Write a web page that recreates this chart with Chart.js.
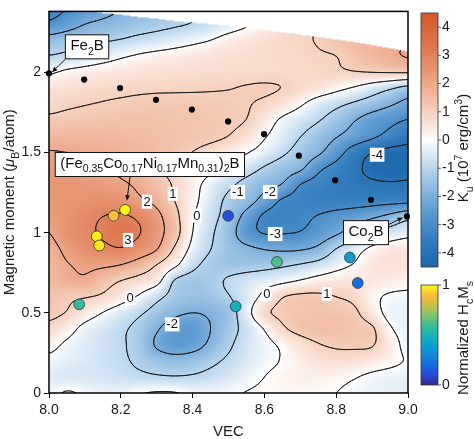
<!DOCTYPE html>
<html>
<head>
<meta charset="utf-8">
<script src="https://cdn.jsdelivr.net/npm/chart.js@4.4.1/dist/chart.umd.min.js"></script>
<style>
  html, body { margin: 0; padding: 0; background: #fff; }
  canvas { display: block; }
</style>
</head>
<body>
<canvas id="myChart" width="474" height="439"></canvas>
<script>
const FONT = '"Liberation Sans", Arial, Helvetica, sans-serif';

// grid of K_u (10^7 erg/cm^3); one row per moment value
const vecGrid = [8.00, 8.05, 8.10, 8.15, 8.20, 8.25, 8.30, 8.35, 8.40, 8.45, 8.50,
                 8.55, 8.60, 8.65, 8.70, 8.75, 8.80, 8.85, 8.90, 8.95, 9.00];
const momentGrid = [0.0, 0.1, 0.2, 0.3, 0.4, 0.5, 0.6, 0.7, 0.8, 0.9, 1.0, 1.1, 1.2,
                    1.3, 1.4, 1.5, 1.6, 1.7, 1.8, 1.9, 2.0, 2.1, 2.2, 2.3, 2.4];

const kuRow00 = [-0.2, 0.05, -0.1, -0.25, -0.25, -0.05, 0.05, 0.03, -0.15, -0.2, -0.1, 0.02, 0.1, 0.15, 0.15, 0.1, 0.0, -0.15, -0.3, -0.35, -0.4];
const kuRow01 = [-0.45, -0.5, -0.55, -0.6, -0.7, -0.8, -0.9, -0.95, -0.9, -0.75, -0.55, -0.25, 0.0, 0.2, 0.3, 0.3, 0.2, 0.05, -0.15, -0.25, -0.3];
const kuRow02 = [-0.2, -0.35, -0.5, -0.65, -0.85, -1.15, -1.45, -1.6, -1.5, -1.2, -0.85, -0.5, -0.2, 0.05, 0.35, 0.55, 0.65, 0.6, 0.45, 0.2, -0.05];
const kuRow03 = [0.25, -0.15, -0.45, -0.65, -0.9, -1.3, -2.1, -2.5, -2.35, -1.8, -1.15, -0.6, -0.25, 0.15, 0.6, 0.95, 1.1, 1.12, 1.05, 0.4, -0.25];
const kuRow04 = [0.75, 0.35, -0.25, -0.55, -0.85, -1.25, -1.9, -2.45, -2.55, -2.0, -1.35, -0.7, 0.05, 0.85, 1.25, 1.4, 1.4, 1.3, 1.1, 0.1, -0.3];
const kuRow05 = [1.2, 0.95, 0.45, -0.02, -0.45, -0.85, -1.35, -1.8, -2.0, -1.85, -1.45, -0.35, 0.8, 1.15, 1.3, 1.35, 1.3, 1.15, 0.45, -0.25, -0.3];
const kuRow06 = [1.3, 1.15, 1.05, 0.85, 0.4, -0.1, -0.75, -1.3, -1.5, -1.4, -1.05, -0.5, 0.25, 0.95, 1.15, 1.15, 1.0, 0.8, 0.2, -0.1, -0.15];
const kuRow07 = [1.5, 1.75, 1.85, 1.4, 1.0, 0.7, 0.3, -1.05, -1.35, -1.25, -0.9, -0.6, -0.4, -0.2, 0.05, 0.3, 0.45, 0.5, 0.45, 0.35, 0.25];
const kuRow08 = [1.6, 1.95, 2.15, 2.15, 2.0, 1.6, 1.0, 0.2, -0.75, -1.25, -1.4, -1.4, -1.3, -1.15, -0.95, -0.7, -0.3, 0.05, 0.45, 0.6, 0.6];
const kuRow09 = [1.75, 2.2, 2.6, 2.8, 2.95, 2.6, 2.05, 0.9, -0.25, -0.98, -1.45, -1.8, -2.05, -2.15, -2.1, -1.8, -1.0, -0.4, 0.15, 0.4, 0.5];
const kuRow10 = [2.0, 2.5, 2.8, 3.1, 3.3, 3.05, 2.35, 1.4, 0.0, -0.85, -1.55, -2.6, -3.05, -3.05, -2.95, -2.6, -2.15, -1.55, -0.95, -0.6, -0.3];
const kuRow11 = [2.25, 2.5, 2.75, 3.0, 3.1, 2.85, 2.25, 1.3, 0.1, -0.7, -1.35, -2.3, -3.15, -3.3, -3.2, -2.95, -2.7, -2.45, -2.15, -1.75, -1.3];
const kuRow12 = [2.35, 2.45, 2.5, 2.55, 2.5, 2.15, 1.75, 1.0, 0.25, -0.5, -1.2, -1.6, -2.35, -3.1, -3.3, -3.4, -3.4, -3.4, -3.35, -3.3, -3.25];
const kuRow13 = [2.4, 2.4, 2.35, 2.25, 2.12, 1.85, 1.4, 0.9, 0.3, -0.3, -0.8, -1.3, -1.7, -2.05, -3.0, -3.3, -3.5, -3.7, -3.85, -3.9, -3.85];
const kuRow14 = [2.3, 2.25, 2.15, 2.03, 1.85, 1.6, 1.15, 0.8, 0.5, 0.2, -0.15, -0.6, -1.1, -1.5, -1.85, -2.8, -3.3, -3.8, -4.2, -4.35, -4.3];
const kuRow15 = [2.05, 2.0, 1.92, 1.85, 1.75, 1.6, 1.45, 1.28, 0.98, 0.65, 0.35, 0.05, -0.35, -0.85, -1.35, -1.85, -2.6, -3.45, -4.0, -4.25, -4.25];
const kuRow16 = [1.6, 1.62, 1.6, 1.58, 1.55, 1.5, 1.45, 1.38, 1.3, 1.2, 0.98, 0.6, 0.07, -0.45, -0.98, -1.45, -1.95, -2.4, -2.85, -3.3, -3.7];
const kuRow17 = [1.15, 1.22, 1.28, 1.33, 1.37, 1.38, 1.37, 1.33, 1.3, 1.25, 1.15, 0.98, 0.45, -0.15, -0.55, -0.95, -1.4, -1.95, -2.45, -2.75, -3.05];
const kuRow18 = [0.8, 0.9, 0.98, 1.05, 1.12, 1.18, 1.22, 1.2, 1.2, 1.18, 1.15, 1.05, 0.85, 0.55, 0.1, -0.45, -0.8, -1.15, -1.5, -1.9, -2.3];
const kuRow19 = [0.55, 0.65, 0.72, 0.78, 0.82, 0.87, 0.9, 0.92, 0.93, 0.95, 0.98, 1.05, 1.08, 0.98, 0.75, 0.5, 0.2, -0.1, -0.5, -0.9, -1.3];
const kuRow20 = [-0.1, 0.15, 0.3, 0.42, 0.5, 0.57, 0.62, 0.66, 0.7, 0.72, 0.74, 0.75, 0.76, 0.78, 0.8, 0.83, 0.88, 0.95, 1.0, 1.03, 1.05];
const kuRow21 = [-0.95, -0.8, -0.6, -0.35, -0.1, 0.1, 0.25, 0.35, 0.45, 0.55, 0.65, 0.7, 0.75, 0.8, 0.85, 0.93, 1.0, 1.3, 1.55, 1.8, 2.05];
const kuRow22 = [-1.6, -1.45, -1.3, -1.1, -0.95, -0.75, -0.6, -0.4, -0.2, 0.0, 0.3, 0.5, 0.65, 0.8, 0.9, 1.05, 1.3, 1.5, 1.65, 1.8, 1.9];
const kuRow23 = [-2.8, -2.4, -2.0, -1.8, -1.6, -1.4, -1.25, -1.1, -0.95, -0.7, -0.35, -0.05, 0.3, 0.55, 0.8, 1.05, 1.25, 1.45, 1.6, 1.75, 1.85];
const kuRow24 = [-3.4, -3.0, -2.6, -2.3, -2.0, -1.7, -1.5, -1.2, -1.0, -0.6, -0.2, 0.2, 0.5, 0.7, 0.9, 1.1, 1.3, 1.5, 1.7, 1.9, 2.0];

// upper limit of the computed region for each VEC column
const dataTop = [2.40, 2.40, 2.39, 2.37, 2.36, 2.345, 2.335, 2.32, 2.31, 2.30, 2.29,
                 2.28, 2.265, 2.25, 2.235, 2.22, 2.205, 2.19, 2.17, 2.15, 2.13];

const kuLevels = [-4, -3, -2, -1, 0, 1, 2, 3];

// binary compounds along the Fe2B - Co2B line
const binaryVec = [8.0, 8.098, 8.198, 8.298, 8.398, 8.499, 8.599, 8.696, 8.797, 8.897, 8.997];
const binaryMoment = [1.994, 1.955, 1.902, 1.829, 1.768, 1.694, 1.615, 1.480, 1.327, 1.205, 1.101];

// high-entropy alloys, coloured by normalized HcMs
const alloyVec = [8.212, 8.18, 8.133, 8.14, 8.499, 8.084, 8.52, 8.635, 8.838, 8.86];
const alloyMoment = [1.142, 1.105, 0.977, 0.92, 1.105, 0.553, 0.54, 0.817, 0.845, 0.686];
const alloyHcMs = [1.0, 0.9, 0.98, 0.97, 0.12, 0.57, 0.48, 0.62, 0.38, 0.2];

const vecTicks = [8.0, 8.2, 8.4, 8.6, 8.8, 9.0];
const momentTicks = [0, 0.5, 1, 1.5, 2];
const momentTickLabels = ['0', '0.5', '1', '1.5', '2'];
const kuBarTicks = [4, 3, 2, 1, 0, -1, -2, -3, -4];
const hcBarTicks = [1, 0];

// inline contour labels
const contourLabelText = ['3', '2', '1', '0', '-1', '-2', '-4', '-3', '0', '-2', '0', '1'];
const contourLabelVec = [8.22, 8.273, 8.345, 8.412, 8.526, 8.616, 8.914, 8.63, 8.226, 8.343, 8.607, 8.774];
const contourLabelMoment = [0.954, 1.193, 1.242, 1.107, 1.254, 1.254, 1.486, 0.991, 0.593, 0.428, 0.618, 0.618];

const kuRows = [kuRow00, kuRow01, kuRow02, kuRow03, kuRow04, kuRow05, kuRow06, kuRow07, kuRow08,
  kuRow09, kuRow10, kuRow11, kuRow12, kuRow13, kuRow14, kuRow15, kuRow16, kuRow17, kuRow18,
  kuRow19, kuRow20, kuRow21, kuRow22, kuRow23, kuRow24];

const kuStops = [
  [-4.5, [28, 102, 172]], [-3.5, [52, 126, 190]], [-2.5, [96, 156, 210]],
  [-1.5, [152, 193, 228]], [-0.5, [218, 233, 245]], [0, [255, 255, 255]],
  [0.5, [250, 230, 220]], [1.5, [241, 188, 163]], [2.5, [231, 147, 113]],
  [3.5, [221, 113, 73]], [4.5, [211, 88, 42]]
];
const parulaStops = [
  [0.0, [53, 42, 135]], [0.1, [40, 72, 215]], [0.2, [22, 108, 228]], [0.3, [18, 136, 216]],
  [0.4, [10, 160, 205]], [0.5, [22, 180, 186]], [0.6, [62, 190, 148]], [0.7, [130, 195, 108]],
  [0.8, [202, 190, 74]], [0.9, [250, 190, 60]], [1.0, [249, 251, 14]]
];

function stopColor(stops, v) {
  if (v <= stops[0][0]) return stops[0][1];
  for (let i = 1; i < stops.length; i++) {
    if (v <= stops[i][0]) {
      const t = (v - stops[i - 1][0]) / (stops[i][0] - stops[i - 1][0]);
      const a = stops[i - 1][1], b = stops[i][1];
      return [a[0] + (b[0] - a[0]) * t, a[1] + (b[1] - a[1]) * t, a[2] + (b[2] - a[2]) * t];
    }
  }
  return stops[stops.length - 1][1];
}
function rgb(c) { return 'rgb(' + c.map(Math.round).join(',') + ')'; }

function gridVal(i, j) {
  i = Math.max(0, Math.min(vecGrid.length - 1, i));
  j = Math.max(0, Math.min(momentGrid.length - 1, j));
  return kuRows[j][i];
}
function catmull(p0, p1, p2, p3, s) {
  return p1 + 0.5 * s * (p2 - p0 + s * (2 * p0 - 5 * p1 + 4 * p2 - p3 + s * (3 * (p1 - p2) + p3 - p0)));
}
// smooth value between grid nodes, clamped to the cell so no new extremes appear
function kuAt(x, y) {
  const gx = (x - vecGrid[0]) / (vecGrid[1] - vecGrid[0]);
  const gy = (y - momentGrid[0]) / (momentGrid[1] - momentGrid[0]);
  const i = Math.max(0, Math.min(vecGrid.length - 2, Math.floor(gx)));
  const j = Math.max(0, Math.min(momentGrid.length - 2, Math.floor(gy)));
  const t = gx - i, u = gy - j;
  const col = [];
  for (let k = -1; k <= 2; k++) {
    col.push(catmull(gridVal(i - 1, j + k), gridVal(i, j + k), gridVal(i + 1, j + k), gridVal(i + 2, j + k), t));
  }
  const v = catmull(col[0], col[1], col[2], col[3], u);
  const c = [gridVal(i, j), gridVal(i + 1, j), gridVal(i, j + 1), gridVal(i + 1, j + 1)];
  return Math.max(Math.min(...c), Math.min(Math.max(...c), v));
}
function topAt(x) {
  const g = (x - vecGrid[0]) / (vecGrid[1] - vecGrid[0]);
  const i = Math.max(0, Math.min(vecGrid.length - 2, Math.floor(g)));
  const t = g - i;
  return dataTop[i] + (dataTop[i + 1] - dataTop[i]) * t;
}

// text with sub/superscripts
function rich(ctx, parts, size, draw, x0, y0) {
  let x = x0;
  for (const [txt, kind, style] of parts) {
    const s = kind ? size * 0.7 : size;
    ctx.font = (style ? style + ' ' : '') + s + 'px ' + FONT;
    const dy = kind === 'sub' ? size * 0.3 : kind === 'sup' ? -size * 0.4 : 0;
    if (draw) ctx.fillText(txt, x, y0 + dy);
    x += ctx.measureText(txt).width;
  }
  return x - x0;
}
function richCentered(ctx, parts, size, cx, cy, angle) {
  ctx.save();
  ctx.translate(cx, cy);
  if (angle) ctx.rotate(angle);
  ctx.textBaseline = 'alphabetic';
  ctx.textAlign = 'left';
  const w = rich(ctx, parts, size, false, 0, 0);
  rich(ctx, parts, size, true, -w / 2, size * 0.36);
  ctx.restore();
  return w;
}

const yTitleParts = [['Magnetic moment ('], ['\u03bc', null, 'italic'], ['B', 'sub'], ['/atom)']];
const kuTitleParts = [['K'], ['u', 'sub'], [' (10'], ['7', 'sup'], [' erg/cm'], ['3', 'sup'], [')']];
const hcTitleParts = [['Normalized H'], ['c', 'sub'], ['M'], ['s', 'sub']];

// boxed annotations: text, box centre, arrow start and the point it marks
const noteParts = [
  [['Fe'], ['2', 'sub'], ['B']],
  [['(Fe'], ['0.35', 'sub'], ['Co'], ['0.17', 'sub'], ['Ni'], ['0.17', 'sub'], ['Mn'], ['0.31', 'sub'], [')'], ['2', 'sub'], ['B']],
  [['Co'], ['2', 'sub'], ['B']]
];
const noteVec = [8.106, 8.281, 8.883];
const noteMoment = [2.159, 1.425, 1.0];
const arrowFromVec = [8.045, 8.226, 8.942];
const arrowFromMoment = [2.08, 1.352, 1.046];
const arrowToVec = [8.008, 8.217, 8.986];
const arrowToMoment = [2.0, 1.199, 1.095];

const heatmap = {
  id: 'heatmap',
  beforeDatasetsDraw(chart) {
    const { ctx, chartArea: a, scales: { x, y } } = chart;
    const w = Math.round(a.right - a.left), h = Math.round(a.bottom - a.top);
    const off = document.createElement('canvas');
    off.width = w; off.height = h;
    const octx = off.getContext('2d');
    const img = octx.createImageData(w, h);
    for (let py = 0; py < h; py++) {
      const m = y.getValueForPixel(a.top + py + 0.5);
      for (let px = 0; px < w; px++) {
        const v = x.getValueForPixel(a.left + px + 0.5);
        const k = (py * w + px) * 4;
        let c = [255, 255, 255];
        if (m <= topAt(v)) c = stopColor(kuStops, kuAt(v, m));
        img.data[k] = c[0]; img.data[k + 1] = c[1]; img.data[k + 2] = c[2]; img.data[k + 3] = 255;
      }
    }
    octx.putImageData(img, 0, 0);
    ctx.drawImage(off, a.left, a.top, w, h);

    // contour lines by marching squares on a fine sampling of the field
    const dx = 0.005, dy = 0.01;
    const xs = [], ys = [];
    for (let i = 0; i <= 200; i++) xs.push(8 + i * dx);
    for (let j = 0; j <= 240; j++) ys.push(j * dy);
    const F = ys.map(m => xs.map(v => kuAt(v, m)));
    const table = { 1: [[3, 0]], 2: [[0, 1]], 3: [[3, 1]], 4: [[1, 2]], 6: [[0, 2]], 7: [[3, 2]],
      8: [[2, 3]], 9: [[0, 2]], 11: [[1, 2]], 12: [[3, 1]], 13: [[0, 1]], 14: [[3, 0]] };

    ctx.save();
    ctx.beginPath();
    ctx.rect(a.left, a.top, a.right - a.left, a.bottom - a.top);
    ctx.clip();
    ctx.beginPath();
    ctx.moveTo(x.getPixelForValue(vecGrid[0]), y.getPixelForValue(0));
    ctx.lineTo(x.getPixelForValue(vecGrid[vecGrid.length - 1]), y.getPixelForValue(0));
    for (let i = vecGrid.length - 1; i >= 0; i--) {
      ctx.lineTo(x.getPixelForValue(vecGrid[i]), y.getPixelForValue(dataTop[i]));
    }
    ctx.closePath();
    ctx.clip();

    ctx.strokeStyle = '#1a1a1a';
    ctx.lineWidth = 1;
    ctx.lineCap = 'round';
    ctx.lineJoin = 'round';
    ctx.beginPath();
    for (const L of kuLevels) {
      for (let j = 0; j < ys.length - 1; j++) {
        for (let i = 0; i < xs.length - 1; i++) {
          const p = F[j][i], q = F[j][i + 1], r = F[j + 1][i + 1], s = F[j + 1][i];
          const idx = (p > L ? 1 : 0) | (q > L ? 2 : 0) | (r > L ? 4 : 0) | (s > L ? 8 : 0);
          if (idx === 0 || idx === 15) continue;
          const edge = e => {
            if (e === 0) return [xs[i] + (L - p) / (q - p) * dx, ys[j]];
            if (e === 1) return [xs[i + 1], ys[j] + (L - q) / (r - q) * dy];
            if (e === 2) return [xs[i] + (L - s) / (r - s) * dx, ys[j + 1]];
            return [xs[i], ys[j] + (L - p) / (s - p) * dy];
          };
          let segs = table[idx];
          if (idx === 5 || idx === 10) {
            const centerHigh = (p + q + r + s) / 4 > L;
            if ((idx === 5) === centerHigh) segs = [[0, 1], [2, 3]];
            else segs = [[3, 0], [1, 2]];
          }
          for (const [e1, e2] of segs) {
            const P = edge(e1), Q = edge(e2);
            ctx.moveTo(x.getPixelForValue(P[0]), y.getPixelForValue(P[1]));
            ctx.lineTo(x.getPixelForValue(Q[0]), y.getPixelForValue(Q[1]));
          }
        }
      }
    }
    ctx.stroke();
    ctx.restore();

    // level labels on white patches
    ctx.save();
    ctx.font = '13px ' + FONT;
    ctx.textAlign = 'center';
    ctx.textBaseline = 'middle';
    contourLabelText.forEach((t, i) => {
      const px = x.getPixelForValue(contourLabelVec[i]);
      const py = y.getPixelForValue(contourLabelMoment[i]);
      const tw = ctx.measureText(t).width;
      ctx.fillStyle = '#fff';
      ctx.fillRect(px - tw / 2 - 1.5, py - 7, tw + 3, 14);
      ctx.fillStyle = '#111';
      ctx.fillText(t, px, py + 0.5);
    });
    ctx.restore();
  }
};

function arrow(ctx, x0, y0, x1, y1) {
  const ang = Math.atan2(y1 - y0, x1 - x0);
  ctx.beginPath();
  ctx.moveTo(x0, y0);
  ctx.lineTo(x1 - Math.cos(ang) * 4, y1 - Math.sin(ang) * 4);
  ctx.stroke();
  ctx.beginPath();
  ctx.moveTo(x1, y1);
  ctx.lineTo(x1 - 6 * Math.cos(ang - 0.4), y1 - 6 * Math.sin(ang - 0.4));
  ctx.lineTo(x1 - 6 * Math.cos(ang + 0.4), y1 - 6 * Math.sin(ang + 0.4));
  ctx.closePath();
  ctx.fill();
}

const overlay = {
  id: 'overlay',
  afterDatasetsDraw(chart) {
    const { ctx, chartArea: a, scales: { x, y } } = chart;
    ctx.save();
    ctx.strokeStyle = '#111';
    ctx.fillStyle = '#111';
    ctx.lineWidth = 1;
    noteParts.forEach((parts, i) => {
      arrow(ctx, x.getPixelForValue(arrowFromVec[i]), y.getPixelForValue(arrowFromMoment[i]),
        x.getPixelForValue(arrowToVec[i]), y.getPixelForValue(arrowToMoment[i]));
      const cx = x.getPixelForValue(noteVec[i]), cy = y.getPixelForValue(noteMoment[i]);
      const tw = rich(ctx, parts, 15, false, 0, 0);
      ctx.fillStyle = '#fff';
      ctx.fillRect(cx - tw / 2 - 5, cy - 12, tw + 10, 24);
      ctx.strokeRect(cx - tw / 2 - 5, cy - 12, tw + 10, 24);
      ctx.fillStyle = '#111';
      richCentered(ctx, parts, 15, cx, cy - 2);
    });
    // frame
    ctx.lineWidth = 1.5;
    ctx.strokeStyle = '#000';
    ctx.strokeRect(a.left, a.top, a.right - a.left, a.bottom - a.top);
    ctx.restore();
  },
  afterDraw(chart) {
    const { ctx, chartArea: a } = chart;
    ctx.save();
    ctx.fillStyle = '#1a1a1a';
    richCentered(ctx, yTitleParts, 15, 9, (a.top + a.bottom) / 2, -Math.PI / 2);
    ctx.font = '15px ' + FONT;
    ctx.textAlign = 'center';
    ctx.textBaseline = 'middle';
    ctx.fillText('VEC', (a.left + a.right) / 2, 432);

    // colour bars
    const bl = a.right + 13, bw = 17;
    const bars = [
      { top: 13, bottom: 267, lo: -4.5, hi: 4.5, stops: kuStops, ticks: kuBarTicks },
      { top: 285, bottom: 385, lo: 0, hi: 1, stops: parulaStops, ticks: hcBarTicks }
    ];
    for (const b of bars) {
      for (let py = b.top; py < b.bottom; py++) {
        const v = b.hi - (py + 0.5 - b.top) / (b.bottom - b.top) * (b.hi - b.lo);
        ctx.fillStyle = rgb(stopColor(b.stops, v));
        ctx.fillRect(bl, py, bw, 1);
      }
      ctx.strokeStyle = '#333';
      ctx.lineWidth = 0.8;
      ctx.strokeRect(bl, b.top, bw, b.bottom - b.top);
      ctx.fillStyle = '#1a1a1a';
      ctx.font = '14px ' + FONT;
      ctx.textAlign = 'left';
      ctx.textBaseline = 'middle';
      for (const t of b.ticks) {
        const py = b.bottom - (t - b.lo) / (b.hi - b.lo) * (b.bottom - b.top);
        ctx.beginPath();
        ctx.moveTo(bl + bw, py);
        ctx.lineTo(bl + bw + 3, py);
        ctx.stroke();
        ctx.fillText(String(t), bl + bw + 4, py);
      }
    }
    ctx.fillStyle = '#1a1a1a';
    richCentered(ctx, kuTitleParts, 15, 463, 148, -Math.PI / 2);
    richCentered(ctx, hcTitleParts, 15, 463, 338, -Math.PI / 2);
    ctx.restore();
  }
};

const ctx = document.getElementById('myChart').getContext('2d');
const myChart = new Chart(ctx, {
  type: 'scatter',
  data: {
    datasets: [
      {
        label: 'binary',
        data: binaryVec.map((v, i) => ({ x: v, y: binaryMoment[i] })),
        pointRadius: 3.1,
        pointBackgroundColor: '#000',
        pointBorderWidth: 0,
        clip: false
      },
      {
        label: 'alloys',
        data: alloyVec.map((v, i) => ({ x: v, y: alloyMoment[i] })),
        pointRadius: 5.4,
        pointBackgroundColor: alloyHcMs.map(v => rgb(stopColor(parulaStops, v))),
        pointBorderColor: '#333',
        pointBorderWidth: 0.8,
        clip: false
      }
    ]
  },
  options: {
    responsive: false,
    animation: false,
    layout: { padding: { top: 3, right: 66, left: 0, bottom: 0 } },
    plugins: { legend: { display: false }, tooltip: { enabled: false } },
    scales: {
      x: {
        type: 'linear',
        min: 8,
        max: 9,
        afterBuildTicks: s => { s.ticks = vecTicks.map(v => ({ value: v })); },
        afterFit: s => { s.height = 46; },
        ticks: {
          autoSkip: false,
          maxRotation: 0,
          padding: 4,
          color: '#1a1a1a',
          font: { size: 14, family: FONT },
          callback: v => Number(v).toFixed(1)
        },
        grid: { drawOnChartArea: false, tickLength: 5, color: '#000' },
        border: { display: false }
      },
      y: {
        type: 'linear',
        min: 0,
        max: 2.38,
        afterBuildTicks: s => { s.ticks = momentTicks.map(v => ({ value: v })); },
        afterFit: s => { s.width = 49; },
        ticks: {
          autoSkip: false,
          padding: 3,
          color: '#1a1a1a',
          font: { size: 14, family: FONT },
          callback: v => momentTickLabels[momentTicks.indexOf(v)]
        },
        grid: { drawOnChartArea: false, tickLength: 5, color: '#000' },
        border: { display: false }
      }
    }
  },
  plugins: [heatmap, overlay]
});
</script>
</body>
</html>
